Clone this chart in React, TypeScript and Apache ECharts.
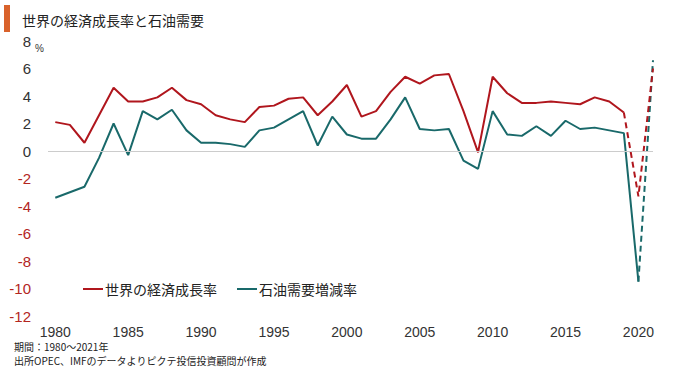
import React, { useEffect, useRef } from "react";
import * as echarts from "echarts";

const years: number[] = [];
for (let y = 1980; y <= 2021; y++) years.push(y);

const gdpGrowth = [
  2.1, 1.9, 0.6, 2.6, 4.6, 3.6, 3.6, 3.9, 4.6, 3.7,
  3.4, 2.6, 2.3, 2.1, 3.2, 3.3, 3.8, 3.9, 2.6, 3.6,
  4.8, 2.5, 2.9, 4.3, 5.4, 4.9, 5.5, 5.6, 2.9, -0.1,
  5.4, 4.2, 3.5, 3.5, 3.6, 3.5, 3.4, 3.9, 3.6, 2.8,
  -3.3, 6.0,
];

const oilDemand = [
  -3.4, -3.0, -2.6, -0.5, 2.0, -0.3, 2.9, 2.3, 3.0, 1.5,
  0.6, 0.6, 0.5, 0.3, 1.5, 1.7, 2.3, 2.9, 0.4, 2.5,
  1.2, 0.9, 0.9, 2.3, 3.9, 1.6, 1.5, 1.6, -0.7, -1.3,
  2.9, 1.2, 1.1, 1.8, 1.1, 2.2, 1.6, 1.7, 1.5, 1.3,
  -9.5, 6.6,
];

const xTickLabels = [1980, 1985, 1990, 1995, 2000, 2005, 2010, 2015, 2020];

const gdpName = "世界の経済成長率";
const oilName = "石油需要増減率";
const titleText = "世界の経済成長率と石油需要";
const note1 = "期間：1980～2021年";
const note2 = "出所OPEC、IMFのデータよりピクテ投信投資顧問が作成";

const RED = "#b0161d";
const TEAL = "#19696a";

function pairs(vals: number[], fromYear: number, toYear: number) {
  return years.map((y, i) => [y, y >= fromYear && y <= toYear ? vals[i] : null]);
}

export default function App() {
  const ref = useRef<HTMLDivElement>(null);
  useEffect(() => {
    if (!ref.current) return;
    const chart = echarts.init(ref.current, null, { renderer: "svg" });
    const num = "Liberation Sans";
    const jp = "Noto Sans CJK JP";
    chart.setOption({
      animation: false,
      backgroundColor: "#ffffff",
      textStyle: { fontFamily: num },
      grid: { left: 48, right: 27, top: 41, bottom: 54, containLabel: false },
      legend: {
        left: 78,
        top: 277,
        icon: "rect",
        itemWidth: 20,
        itemHeight: 2,
        itemGap: 20,
        data: [gdpName, oilName],
        textStyle: { fontSize: 14, color: "#222", fontFamily: jp, padding: [0, 0, 0, -3] },
      },
      xAxis: {
        type: "value",
        min: 1979.5,
        max: 2021,
        axisLine: { show: false },
        axisTick: { show: false },
        splitLine: { show: false },
        axisLabel: {
          customValues: xTickLabels,
          fontSize: 14,
          fontFamily: num,
          color: "#333",
          margin: 9,
          formatter: (v: number) => String(v),
        },
      },
      yAxis: {
        type: "value",
        min: -12,
        max: 8,
        interval: 2,
        axisLine: { show: false },
        axisTick: { show: false },
        splitLine: { show: false },
        axisLabel: {
          fontSize: 15,
          fontFamily: num,
          margin: 17,
          color: (v: any) => (Number(v) < 0 ? "#b3261e" : "#333"),
        },
      },
      series: [
        {
          name: gdpName,
          type: "line",
          data: pairs(gdpGrowth, 1980, 2019),
          symbol: "none",
          lineStyle: { color: RED, width: 2 },
          itemStyle: { color: RED },
          z: 3,
          markLine: {
            silent: true,
            symbol: "none",
            label: { show: false },
            lineStyle: { color: "#cccccc", width: 1, type: "solid" },
            data: [{ yAxis: 0 }],
          },
        },
        {
          name: gdpName,
          type: "line",
          data: pairs(gdpGrowth, 2019, 2021),
          symbol: "none",
          lineStyle: { color: RED, width: 2, type: [6, 4] },
          itemStyle: { color: RED },
          z: 3,
        },
        {
          name: oilName,
          type: "line",
          data: pairs(oilDemand, 1980, 2020),
          symbol: "none",
          lineStyle: { color: TEAL, width: 2 },
          itemStyle: { color: TEAL },
          z: 2,
        },
        {
          name: oilName,
          type: "line",
          data: pairs(oilDemand, 2020, 2021),
          symbol: "none",
          lineStyle: { color: TEAL, width: 2, type: [6, 4] },
          itemStyle: { color: TEAL },
          z: 2,
        },
      ],
      graphic: [
        { type: "rect", shape: { x: 4, y: 5, width: 6, height: 27 }, style: { fill: "#d9622b" } },
        {
          type: "text",
          x: 22,
          y: 20,
          style: { text: titleText, font: `14px '${jp}'`, fill: "#222", textVerticalAlign: "middle" },
        },
        {
          type: "text",
          x: 35,
          y: 48,
          style: { text: "%", font: `10px '${num}'`, fill: "#333", textVerticalAlign: "middle" },
        },
        {
          type: "text",
          x: 14,
          y: 346,
          style: { text: note1, font: `10px '${jp}'`, fill: "#222", textVerticalAlign: "middle" },
        },
        {
          type: "text",
          x: 14,
          y: 360,
          style: { text: note2, font: `10px '${jp}'`, fill: "#222", textVerticalAlign: "middle" },
        },
      ],
    });
    return () => chart.dispose();
  }, []);
  return (
    <div
      ref={ref}
      style={{ position: "fixed", left: 0, top: 0, width: 680, height: 370 }}
    />
  );
}
